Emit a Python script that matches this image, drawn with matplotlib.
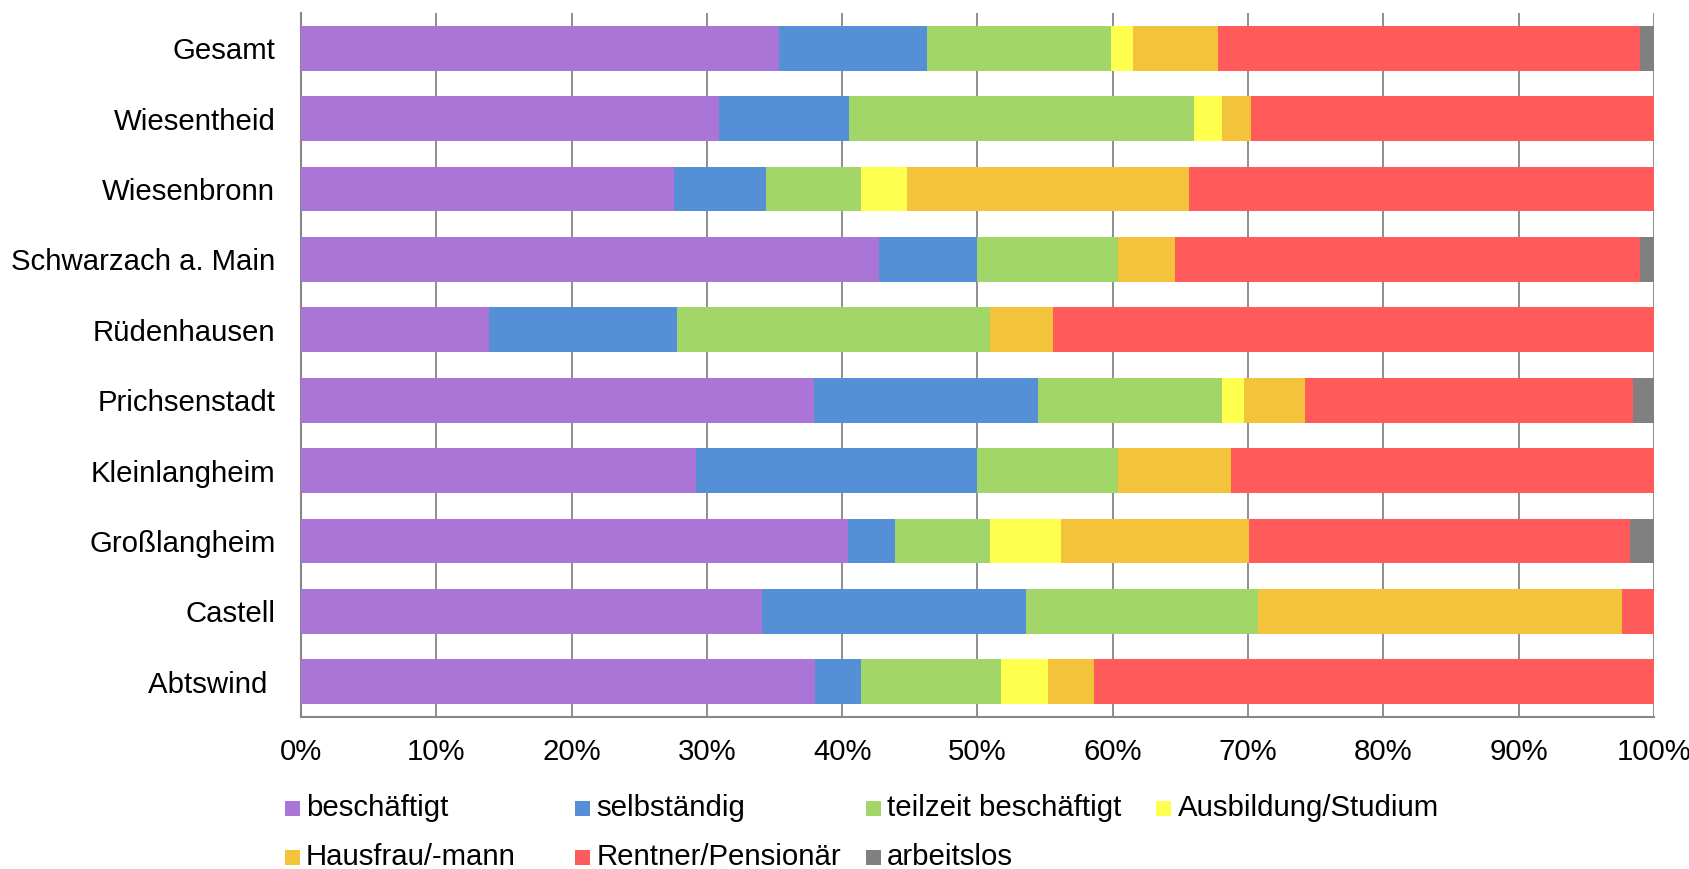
import numpy as np
import matplotlib
matplotlib.use("Agg")
import matplotlib.pyplot as plt
from matplotlib.patches import Rectangle
from matplotlib.ticker import PercentFormatter

plt.rcParams['font.family'] = ['Liberation Sans', 'DejaVu Sans']

# ---------------- DATA ----------------
orte = ["Gesamt", "Wiesentheid", "Wiesenbronn", "Schwarzach a. Main", "Rüdenhausen",
        "Prichsenstadt", "Kleinlangheim", "Großlangheim", "Castell", "Abtswind "]

gruppen = ["beschäftigt", "selbständig", "teilzeit beschäftigt", "Ausbildung/Studium",
           "Hausfrau/-mann", "Rentner/Pensionär", "arbeitslos"]

# Anteile in % (je Ort, gleiche Reihenfolge wie orte)
beschaeftigt = [35.3, 30.9, 27.6, 42.7, 13.9, 37.9, 29.2, 40.4, 34.1, 38.0]
selbstaendig = [11.0, 9.6, 6.8, 7.3, 13.9, 16.6, 20.8, 3.5, 19.5, 3.4]
teilzeit = [13.6, 25.5, 7.0, 10.4, 23.1, 13.6, 10.4, 7.0, 17.1, 10.3]
ausbildung = [1.6, 2.1, 3.4, 0.0, 0.0, 1.6, 0.0, 5.3, 0.0, 3.5]
hausfrau = [6.3, 2.1, 20.8, 4.2, 4.7, 4.5, 8.3, 13.9, 26.9, 3.4]
rentner = [31.2, 29.8, 34.4, 34.4, 44.4, 24.25, 31.3, 28.1, 2.4, 41.4]
arbeitslos = [1.0, 0.0, 0.0, 1.0, 0.0, 1.55, 0.0, 1.8, 0.0, 0.0]

farben = ["#AA75D6", "#558FD6", "#A3D669", "#FFFF4D", "#F3C33C", "#FF5B5B", "#808080"]

# ---------------- PLOT ----------------
werte = np.array([beschaeftigt, selbstaendig, teilzeit, ausbildung, hausfrau, rentner, arbeitslos])
werte = werte / werte.sum(axis=0) * 100  # 100% gestapelt

fig = plt.figure(figsize=(16.9, 8.69), dpi=100)
ax = fig.add_axes([301 / 1690, 1 - 717 / 869, (1654 - 301) / 1690, (717 - 13) / 869])

y = np.arange(len(orte))
links = np.zeros(len(orte))
for i in range(len(gruppen)):
    ax.barh(y, werte[i], left=links, height=0.635, color=farben[i], linewidth=0, zorder=3)
    links += werte[i]

ax.set_xlim(0, 100)
ax.set_ylim(len(orte) - 0.5, -0.5)
ax.set_xticks(np.arange(0, 101, 10))
ax.xaxis.set_major_formatter(PercentFormatter(decimals=0))
ax.set_yticks(y)
ax.set_yticklabels(orte)
ax.tick_params(axis='both', length=0, labelsize=21.2, colors='black')
ax.tick_params(axis='x', pad=15)
ax.tick_params(axis='y', pad=18.5)

ax.grid(axis='x', color='#868686', linewidth=1.3, zorder=0)
ax.set_axisbelow(True)
for s in ['top', 'right']:
    ax.spines[s].set_visible(False)
for s in ['left', 'bottom']:
    ax.spines[s].set_color('#868686')
    ax.spines[s].set_linewidth(1.5)

# Legende (zeilenweise, 4 Spalten) von Hand
W, H = 1690, 869
spalten_x = [284.5, 575, 865.5, 1156]
zeilen_y = [808, 857]
for i, name in enumerate(gruppen):
    r, c = divmod(i, 4)
    x0 = spalten_x[c]
    yc = zeilen_y[r]
    fig.add_artist(Rectangle((x0 / W, 1 - (yc + 7.5) / H), 15 / W, 15 / H,
                             transform=fig.transFigure, color=farben[i], linewidth=0))
    fig.text((x0 + 21.5) / W, 1 - yc / H, name, fontsize=21.2, va='center', ha='left')

fig.savefig("out.png", dpi=100)
